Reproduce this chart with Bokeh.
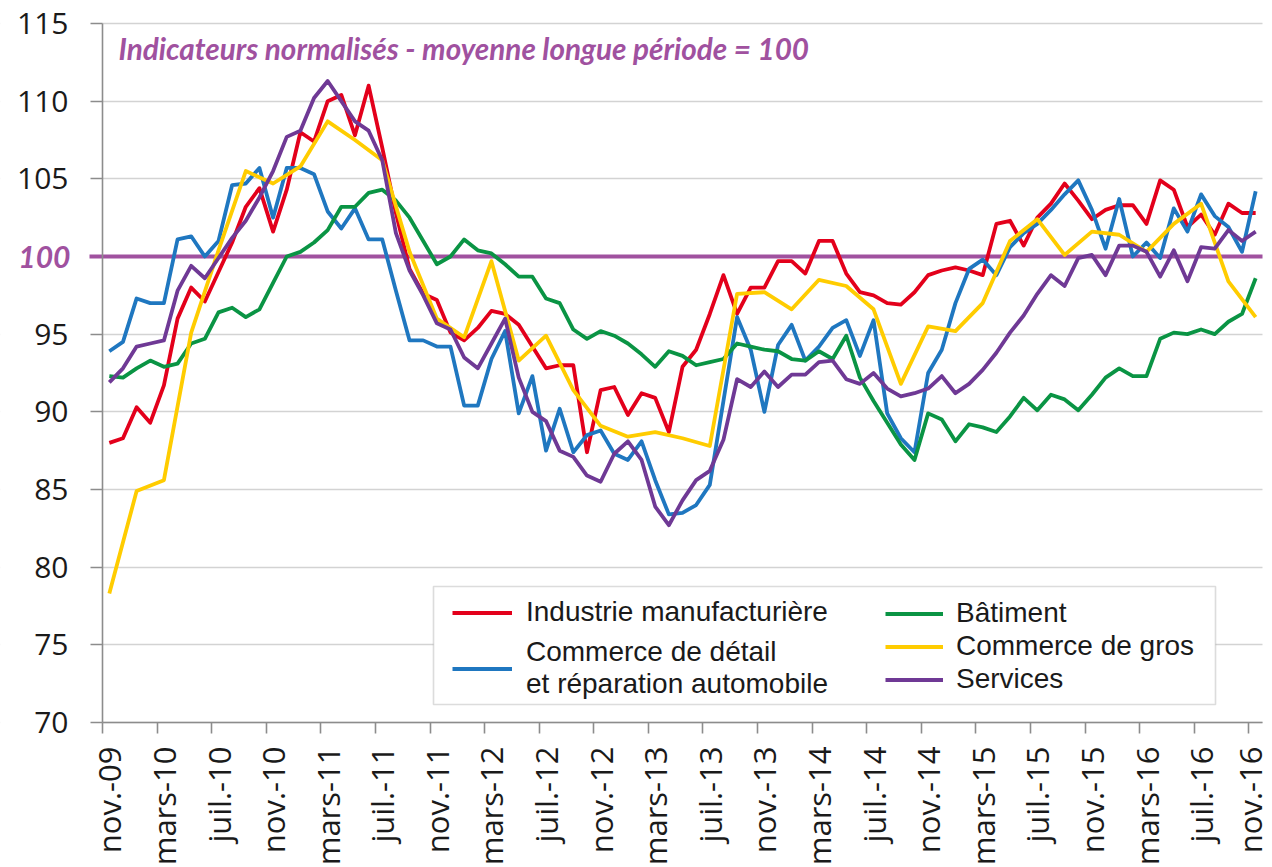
import math
from bokeh.plotting import figure
from bokeh.models import (FixedTicker, Label, Legend, LegendItem,
                          ColumnDataSource, Range1d, BoxAnnotation)
from bokeh.embed import file_html
from bokeh.resources import INLINE

# ---------------- data (monthly, nov-09 .. nov-16) ----------------
tick_labels = ["nov.-09", "mars-10", "juil.-10", "nov.-10", "mars-11", "juil.-11",
               "nov.-11", "mars-12", "juil.-12", "nov.-12", "mars-13", "juil.-13",
               "nov.-13", "mars-14", "juil.-14", "nov.-14", "mars-15", "juil.-15",
               "nov.-15", "mars-16", "juil.-16", "nov.-16"]

industrie = [88.0, 88.3, 90.3, 89.3, 91.7, 96.0, 98.0, 97.1, 99.0, 100.9,
             103.2, 104.4, 101.6, 104.3, 108.0, 107.4, 110.0, 110.4, 107.8, 111.0,
             107.0, 102.8, 99.2, 97.6, 97.2, 95.1, 94.6, 95.4, 96.5, 96.3,
             95.6, 94.2, 92.8, 93.0, 93.0, 87.4, 91.4, 91.6, 89.8, 91.2,
             90.9, 88.7, 92.9, 94.0, 96.3, 98.8, 96.3, 98.0, 98.0, 99.7,
             99.7, 98.9, 101.0, 101.0, 98.9, 97.7, 97.5, 97.0, 96.9, 97.7,
             98.8, 99.1, 99.3, 99.1, 98.8, 102.1, 102.3, 100.7, 102.5, 103.4,
             104.7, 103.6, 102.4, 103.0, 103.3, 103.3, 102.1, 104.9, 104.3, 101.9,
             102.7, 101.4, 103.4, 102.8, 102.8]

commerce_detail = [93.9, 94.5, 97.3, 97.0, 97.0, 101.1, 101.3, 100.0, 101.0, 104.6,
                   104.7, 105.7, 102.5, 105.7, 105.7, 105.3, 102.9, 101.8, 103.1, 101.1,
                   101.1, 97.8, 94.6, 94.6, 94.2, 94.2, 90.4, 90.4, 93.4, 95.2,
                   89.9, 92.3, 87.5, 90.2, 87.4, 88.5, 88.8, 87.3, 86.9, 88.1,
                   85.6, 83.4, 83.5, 84.0, 85.3, 90.7, 96.1, 94.0, 90.0, 94.3,
                   95.6, 93.3, 94.2, 95.4, 95.9, 93.6, 95.9, 89.9, 88.3, 87.4,
                   92.5, 94.0, 97.0, 99.2, 99.8, 98.8, 100.6, 101.5, 102.1, 103.0,
                   104.0, 104.9, 103.0, 100.5, 103.7, 100.0, 100.9, 99.9, 103.1, 101.6,
                   104.0, 102.6, 101.9, 100.3, 104.2]

batiment = [92.3, 92.2, 92.8, 93.3, 92.9, 93.1, 94.4, 94.7, 96.4, 96.7,
            96.1, 96.6, 98.3, 100.0, 100.3, 100.9, 101.7, 103.2, 103.2, 104.1,
            104.3, 103.6, 102.5, 101.0, 99.5, 100.0, 101.1, 100.4, 100.2, 99.5,
            98.7, 98.7, 97.3, 97.0, 95.3, 94.7, 95.2, 94.9, 94.4, 93.7,
            92.9, 93.9, 93.6, 93.0, 93.2, 93.4, 94.4, 94.2, 94.0, 93.9,
            93.4, 93.3, 93.9, 93.4, 94.9, 92.2, 90.7, 89.3, 87.9, 86.9,
            89.9, 89.5, 88.1, 89.2, 89.0, 88.7, 89.7, 90.9, 90.1, 91.1,
            90.8, 90.1, 91.1, 92.2, 92.8, 92.3, 92.3, 94.7, 95.1, 95.0,
            95.3, 95.0, 95.8, 96.3, 98.6]

services = [91.9, 92.8, 94.2, 94.4, 94.6, 97.8, 99.4, 98.6, 99.9, 101.2,
            102.3, 103.8, 105.5, 107.7, 108.1, 110.2, 111.3, 110.0, 108.7, 108.1,
            106.2, 101.5, 99.1, 97.5, 95.7, 95.3, 93.5, 92.8, 94.4, 96.0,
            92.2, 90.0, 89.4, 87.5, 87.1, 85.9, 85.5, 87.3, 88.1, 86.9,
            83.9, 82.7, 84.3, 85.6, 86.2, 88.2, 92.1, 91.6, 92.6, 91.6,
            92.4, 92.4, 93.2, 93.3, 92.1, 91.8, 92.5, 91.5, 91.0, 91.2,
            91.5, 92.3, 91.2, 91.8, 92.7, 93.8, 95.1, 96.2, 97.6, 98.8,
            98.1, 99.9, 100.1, 98.8, 100.7, 100.7, 100.3, 98.7, 100.4, 98.4,
            100.6, 100.5, 101.7, 101.0, 101.6]

# wholesale trade survey is bimonthly: month indices where it is observed
gros_months = [0, 2, 4, 6, 8, 10, 12, 14, 16, 18, 20, 22, 24, 26, 28, 30, 32, 34,
               36, 38, 40, 42, 44, 46, 48, 50, 52, 54, 56, 58, 60, 62, 64, 66, 68,
               70, 72, 74, 76, 78, 80, 82, 84]
commerce_gros = [78.3, 84.9, 85.6, 95.1, 100.4, 105.5, 104.7, 105.8, 108.7, 107.5,
                 106.2, 100.3, 96.0, 94.8, 99.7, 93.3, 94.9, 91.4, 89.1, 88.4,
                 88.7, 88.3, 87.8, 97.6, 97.7, 96.6, 98.5, 98.1, 96.6, 91.8,
                 95.5, 95.2, 97.0, 101.0, 102.4, 100.1, 101.6, 101.4, 100.3, 102.1,
                 103.4, 98.4, 96.1]

y_min, y_max, y_step = 70, 115, 5
reference_level = 100
tick_step = 4

# ---------------- colours / fonts ----------------
RED = "#E3001B"
BLUE = "#1F77C0"
GREEN = "#0A9444"
YELLOW = "#FFCC00"
PURPLE = "#6F3995"
MAGENTA = "#A0519F"
AXIS_GREY = "#8C8C8C"
GRID_GREY = "#D3D3D3"
TEXT = "#1A1A1A"

# ---------------- geometry (pixels) ----------------
W, H = 1270, 866                 # canvas = frame (axes drawn at fixed locations)
PLOT_L, PLOT_R = 102, 1262       # plotting area inside the canvas
PLOT_T, PLOT_B = 23, 722
LEG_L, LEG_R, LEG_T, LEG_B = 433, 1215, 586, 704   # legend frame

n = len(industrie)
x_lo, x_hi = -0.5, n - 0.5
ppx = (PLOT_R - PLOT_L) / (x_hi - x_lo)
ppy = (PLOT_B - PLOT_T) / (y_max - y_min)
x_start = x_lo - PLOT_L / ppx
y_end = y_max + PLOT_T / ppy
x_range = Range1d(x_start, x_hi + (W - PLOT_R) / ppx)
y_range = Range1d(y_min - (H - PLOT_B) / ppy, y_end)


def cx(px):
    return x_start + px / ppx


def cy(py):
    return y_end - py / ppy


p = figure(frame_width=W, frame_height=H, x_range=x_range, y_range=y_range,
           output_backend="svg", toolbar_location=None,
           min_border_left=0, min_border_right=0, min_border_top=0, min_border_bottom=0)
p.outline_line_color = None
p.background_fill_color = "white"
p.border_fill_color = "white"

# grid
p.xgrid.visible = False
p.ygrid.grid_line_color = GRID_GREY
p.ygrid.grid_line_width = 1.6

# y axis at the left edge of the plotting area
yticks = [v for v in range(y_min, y_max + 1, y_step) if v != reference_level]
p.yaxis.fixed_location = x_lo
p.yaxis.bounds = (y_min, y_max)
p.yaxis.ticker = FixedTicker(ticks=yticks, minor_ticks=[])
p.yaxis.axis_line_color = AXIS_GREY
p.yaxis.axis_line_width = 1.6
p.yaxis.major_tick_line_color = AXIS_GREY
p.yaxis.major_tick_line_width = 1.6
p.yaxis.major_tick_out = 12
p.yaxis.major_tick_in = 0
p.yaxis.minor_tick_line_color = None
p.yaxis.major_label_text_font = "Open Sans"
p.yaxis.major_label_text_font_size = "30px"
p.yaxis.major_label_text_color = TEXT
p.yaxis.major_label_standoff = 22

# x axis: labels on category centres, ticks on category boundaries
label_pos = [i * tick_step for i in range(len(tick_labels))]
boundary_pos = [x - 0.5 for x in label_pos]
p.xaxis.fixed_location = y_min
p.xaxis.bounds = (x_lo, x_hi)
p.xaxis.ticker = FixedTicker(ticks=label_pos, minor_ticks=boundary_pos)
p.xaxis.major_label_overrides = {pos: lab for pos, lab in zip(label_pos, tick_labels)}
p.xaxis.axis_line_color = AXIS_GREY
p.xaxis.axis_line_width = 1.6
p.xaxis.major_tick_line_color = None
p.xaxis.major_tick_out = 11
p.xaxis.major_tick_in = 0
p.xaxis.minor_tick_line_color = AXIS_GREY
p.xaxis.minor_tick_line_width = 1.6
p.xaxis.minor_tick_out = 11
p.xaxis.minor_tick_in = 0
p.xaxis.major_label_orientation = math.pi / 2
p.xaxis.major_label_text_font = "Open Sans"
p.xaxis.major_label_text_font_size = "31px"
p.xaxis.major_label_text_color = TEXT
p.xaxis.major_label_standoff = 13

# keep grid lines inside the plotting area
p.add_layout(BoxAnnotation(left=x_start - 5, right=x_lo, fill_color="white",
                           fill_alpha=1.0, line_color=None, level="underlay"))
p.add_layout(BoxAnnotation(left=x_hi, right=x_range.end + 5, fill_color="white",
                           fill_alpha=1.0, line_color=None, level="underlay"))

# reference line at 100 (with a short stub outside the axis, as in the original)
stub = 13 / ppx
p.segment(x0=[x_lo - stub], y0=[reference_level], x1=[x_hi], y1=[reference_level],
          line_color=MAGENTA, line_width=4)

lw = 3.8
src = ColumnDataSource(dict(x=list(range(n)), ind=industrie, det=commerce_detail,
                            bat=batiment, srv=services))
src_gros = ColumnDataSource(dict(x=gros_months, gros=commerce_gros))

r_ind = p.line("x", "ind", source=src, line_color=RED, line_width=lw, line_join="round")
r_det = p.line("x", "det", source=src, line_color=BLUE, line_width=lw, line_join="round")
r_bat = p.line("x", "bat", source=src, line_color=GREEN, line_width=lw, line_join="round")
r_gros = p.line("x", "gros", source=src_gros, line_color=YELLOW, line_width=lw, line_join="round")
r_srv = p.line("x", "srv", source=src, line_color=PURPLE, line_width=lw, line_join="round")

# "100" label in the axis zone
p.add_layout(Label(x=x_lo, y=reference_level, x_offset=-32, text=str(reference_level),
                   text_align="right", text_baseline="middle",
                   text_font="Lato", text_font_style="bold italic",
                   text_font_size="30px", text_color=MAGENTA))

# subtitle inside the plot
p.add_layout(Label(x=x_lo, y=y_max, x_offset=16, y_offset=-25,
                   text="Indicateurs normalisés - moyenne longue période = 100",
                   text_align="left", text_baseline="middle",
                   text_font="Lato", text_font_style="bold italic",
                   text_font_size="29.7px", text_color=MAGENTA))

# legend frame spanning both legend columns
p.add_layout(BoxAnnotation(left=cx(LEG_L), right=cx(LEG_R), top=cy(LEG_T), bottom=cy(LEG_B),
                           fill_color="white", fill_alpha=1.0,
                           line_color=AXIS_GREY, line_width=1.6, level="annotation"))

leg_common = dict(label_text_font="Liberation Sans", label_text_font_size="28px",
                  label_text_color=TEXT, glyph_height=31, label_height=31,
                  margin=0, padding=0, border_line_color=None,
                  background_fill_alpha=0.0)
leg_a = Legend(items=[LegendItem(label="Industrie manufacturière", renderers=[r_ind]),
                      LegendItem(label="Commerce de détail\net réparation automobile",
                                 renderers=[r_det])],
               location=(452, H - 700), spacing=8,
               glyph_width=60, label_standoff=14, **leg_common)
leg_b = Legend(items=[LegendItem(label="Bâtiment", renderers=[r_bat]),
                      LegendItem(label="Commerce de gros", renderers=[r_gros]),
                      LegendItem(label="Services", renderers=[r_srv])],
               location=(885, H - 695), spacing=1,
               glyph_width=58, label_standoff=13, **leg_common)
p.add_layout(leg_a)
p.add_layout(leg_b)

open("out.html", "w").write(file_html(p, INLINE))
